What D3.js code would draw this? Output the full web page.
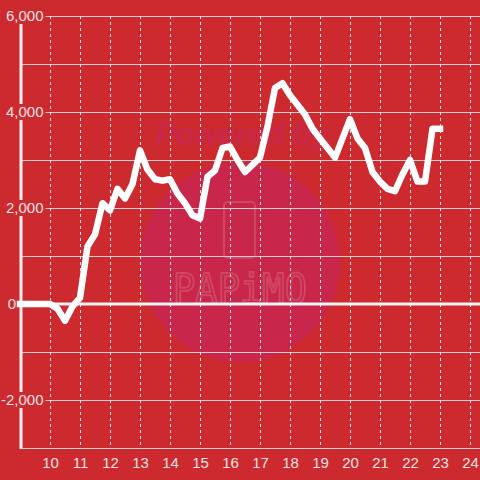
<!DOCTYPE html>
<html>
<head>
<meta charset="utf-8">
<script src="https://cdn.jsdelivr.net/npm/d3@7"></script>
<style>
	html, body { margin: 0; padding: 0; background: #cc2a2e; }
	svg { display: block; }
</style>
</head>
<body>
<svg id="chart" width="480" height="480"></svg>
<script>

// hours of the day, one reading every quarter hour
const times = [
	9.0, 9.25, 9.5, 9.75, 10.0, 10.25, 10.5, 10.75,
	11.0, 11.25, 11.5, 11.75, 12.0, 12.25, 12.5, 12.75,
	13.0, 13.25, 13.5, 13.75, 14.0, 14.25, 14.5, 14.75,
	15.0, 15.25, 15.5, 15.75, 16.0, 16.25, 16.5, 16.75,
	17.0, 17.25, 17.5, 17.75, 18.0, 18.25, 18.5, 18.75,
	19.0, 19.25, 19.5, 19.75, 20.0, 20.25, 20.5, 20.75,
	21.0, 21.25, 21.5, 21.75, 22.0, 22.25, 22.5, 22.75,
	23.0
];

const values = [
	0, 0, 0, 0, 0, -100, -350, -50,
	130, 1200, 1450, 2100, 1950, 2400, 2200, 2500,
	3200, 2800, 2600, 2570, 2600, 2300, 2100, 1850,
	1780, 2650, 2780, 3250, 3280, 3000, 2750, 2900,
	3050, 3700, 4500, 4600, 4350, 4150, 3950, 3650,
	3450, 3250, 3050, 3450, 3850, 3450, 3250, 2750,
	2550, 2400, 2350, 2700, 3000, 2550, 2550, 3650,
	3650
];

const xTicks = [10, 11, 12, 13, 14, 15, 16, 17, 18, 19, 20, 21, 22, 23, 24];
const yGrid = [6000, 5000, 4000, 3000, 2000, 1000, -1000, -2000];
const yLabels = [6000, 4000, 2000, 0, -2000];

const bg = '#cc2a2e';
const svg = d3.select('#chart');

const x = d3.scaleLinear().domain([10, 24]).range([50, 470]);
const y = d3.scaleLinear().domain([-3000, 6000]).range([448, 16]);
const left = 21, right = 480;

// watermark
const wm = svg.append('g');
wm.append('circle')
	.attr('cx', 240).attr('cy', 262).attr('r', 100)
	.attr('fill', '#c8264a');
wm.append('text')
	.attr('x', 242).attr('y', 145)
	.attr('text-anchor', 'middle')
	.attr('font-family', 'Liberation Sans, Arial, sans-serif')
	.attr('font-size', 31).attr('font-weight', 'bold').attr('font-style', 'italic')
	.attr('fill', '#c9284a')
	.text('Powered by');
wm.append('rect')
	.attr('x', 224).attr('y', 202).attr('width', 31).attr('height', 56).attr('rx', 4)
	.attr('fill', 'none').attr('stroke', 'rgba(255,255,255,0.15)').attr('stroke-width', 2);
wm.append('text')
	.attr('x', 173).attr('y', 303)
	.attr('textLength', 134).attr('lengthAdjust', 'spacingAndGlyphs')
	.attr('font-family', 'DejaVu Sans Mono, monospace')
	.attr('font-size', 40)
	.attr('fill', 'none').attr('stroke', 'rgba(255,255,255,0.16)').attr('stroke-width', 2)
	.text('PAPiMO');

// grid
svg.append('g').selectAll('line')
	.data(yGrid)
	.join('line')
	.attr('x1', left).attr('x2', right)
	.attr('y1', d => Math.round(y(d)) + 0.5).attr('y2', d => Math.round(y(d)) + 0.5)
	.attr('stroke', '#cfcfcf').attr('stroke-width', 1);

svg.append('g').selectAll('line')
	.data(xTicks)
	.join('line')
	.attr('x1', d => x(d) + 0.5).attr('x2', d => x(d) + 0.5)
	.attr('y1', y(6000)).attr('y2', y(-3000))
	.attr('stroke', '#e6e6e6').attr('stroke-width', 1)
	.attr('stroke-dasharray', '3,3');

// bottom axis
const xAxis = d3.axisBottom(x).tickValues(xTicks).tickSize(0).tickPadding(9);
const gx = svg.append('g')
	.attr('transform', `translate(0,${y(-3000)})`)
	.call(xAxis);
gx.select('.domain').remove();
gx.selectAll('text')
	.attr('font-family', 'Liberation Sans, Arial, sans-serif')
	.attr('font-size', 15)
	.attr('fill', '#f3e2e2');
svg.append('line')
	.attr('x1', left).attr('x2', right)
	.attr('y1', y(-3000) + 0.5).attr('y2', y(-3000) + 0.5)
	.attr('stroke', '#cfcfcf');

// y axis line and zero line
svg.append('line')
	.attr('x1', left).attr('x2', left)
	.attr('y1', y(6000)).attr('y2', y(-3000) + 1)
	.attr('stroke', '#f4f0f0').attr('stroke-width', 3);

svg.append('line')
	.attr('x1', left).attr('x2', right)
	.attr('y1', y(0)).attr('y2', y(0))
	.attr('stroke', '#f7f4f4').attr('stroke-width', 3);

// y labels with a background patch (plain hyphen for the minus sign)
const fmt = d => d3.format(',')(d).replace('\u2212', '-');
const yl = svg.append('g').selectAll('g')
	.data(yLabels)
	.join('g')
	.attr('transform', d => `translate(${d === 0 ? 16 : 43.5},${y(d)})`);
yl.filter(d => d !== 0).append('rect')
	.attr('x', -44).attr('y', -8).attr('width', 46).attr('height', 16)
	.attr('fill', bg);
yl.append('text')
	.attr('text-anchor', 'end')
	.attr('dy', '0.36em')
	.attr('font-family', 'Liberation Sans, Arial, sans-serif')
	.attr('font-size', 15)
	.attr('fill', '#f3e2e2')
	.text(d => fmt(d));

// series
const line = d3.line()
	.x((d, i) => x(times[i]))
	.y(d => y(d));

svg.append('path')
	.datum(values)
	.attr('d', line)
	.attr('fill', 'none')
	.attr('stroke', '#ffffff')
	.attr('stroke-width', 6.5)
	.attr('stroke-linejoin', 'round')
	.attr('stroke-linecap', 'square');

</script>
</body>
</html>
